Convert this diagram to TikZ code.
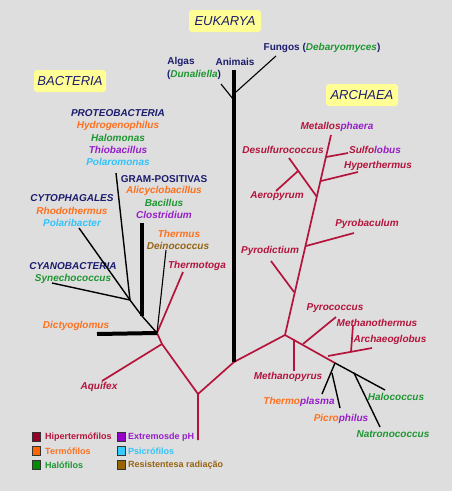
\documentclass[tikz,border=0pt]{standalone}
\usepackage{fontspec}
\setmainfont{Liberation Sans}
\definecolor{bgc}{RGB}{222,222,222}
\definecolor{navy}{RGB}{28,28,110}
\definecolor{crim}{RGB}{180,20,60}
\definecolor{orng}{RGB}{255,112,30}
\definecolor{grn}{RGB}{30,150,50}
\definecolor{purp}{RGB}{150,30,200}
\definecolor{ltblue}{RGB}{50,195,250}
\definecolor{brwn}{RGB}{150,100,20}
\definecolor{yel}{RGB}{255,255,150}
\definecolor{swred}{RGB}{150,0,40}
\definecolor{sworng}{RGB}{255,102,0}
\definecolor{swgrn}{RGB}{0,140,0}
\definecolor{swpurp}{RGB}{150,0,200}
\definecolor{swblue}{RGB}{51,204,255}
\definecolor{swbrwn}{RGB}{150,100,0}
\begin{document}
\begin{tikzpicture}[x=1pt,y=-1pt,
  lbl/.style={font=\fontsize{10}{12}\selectfont\bfseries\itshape, inner sep=0pt},
  ulbl/.style={font=\fontsize{10}{12}\selectfont\bfseries, inner sep=0pt},
  hdr/.style={font=\fontsize{13}{15}\selectfont\itshape, text=navy, fill=yel, rounded corners=3pt, minimum width=72pt, minimum height=22pt, inner sep=0pt},
  leg/.style={font=\fontsize{9}{11}\selectfont\bfseries, inner sep=0pt, anchor=west},
  sw/.style={draw=black!80, line width=0.8pt, minimum width=8.5pt, minimum height=9pt, inner sep=0pt},
  redl/.style={draw=crim, line width=1.7pt},
  blkl/.style={draw=black, line width=1.4pt},
  thk/.style={draw=black, line width=4pt},
]
\useasboundingbox (0,0) rectangle (452,491);
\fill[bgc] (0,0) rectangle (452,491);

% headers
\node[hdr] (euk) at (225,21) {EUKARYA};
\node[hdr] (bac) at (70,81) {BACTERIA};
\node[hdr] (arc) at (362,95) {ARCHAEA};

% eukarya labels
\node[ulbl, text=navy] (algas) at (181,62) {Algas};
\node[ulbl, text=navy] (dun) at (194,75) {(\textcolor{grn}{\itshape Dunaliella})};
\node[ulbl, text=navy] (anim) at (235,62) {Animais};
\node[ulbl, text=navy] (fung) at (322,48) {Fungos (\textcolor{grn}{\itshape Debaryomyces})};

% bacteria labels
\node[lbl, text=navy] (prot) at (118,113) {PROTEOBACTERIA};
\node[lbl, text=orng] (hydr) at (118,126) {Hydrogenophilus};
\node[lbl, text=grn] (halm) at (118,138) {Halomonas};
\node[lbl, text=purp] (thio) at (118,150) {Thiobacillus};
\node[lbl, text=ltblue] (polm) at (118,162) {Polaromonas};
\node[ulbl, text=navy] (gram) at (164,179) {GRAM-POSITIVAS};
\node[lbl, text=orng] (alic) at (164,191) {Alicyclobacillus};
\node[lbl, text=grn] (baci) at (164,203) {Bacillus};
\node[lbl, text=purp] (clos) at (164,215) {Clostridium};
\node[lbl, text=navy] (cyto) at (72,198) {CYTOPHAGALES};
\node[lbl, text=orng] (rhod) at (72,211) {Rhodothermus};
\node[lbl, text=ltblue] (polb) at (72,223) {Polaribacter};
\node[lbl, text=orng] (ther) at (179,234) {Thermus};
\node[lbl, text=brwn] (dein) at (178,246) {Deinococcus};
\node[lbl, text=crim] (tmtg) at (197,266) {Thermotoga};
\node[lbl, text=navy] (cyan) at (73,266) {CYANOBACTERIA};
\node[lbl, text=grn] (syne) at (73,279) {Synechococcus};
\node[lbl, text=orng] (dict) at (76,326) {Dictyoglomus};
\node[lbl, text=crim] (aqui) at (99,387) {Aquifex};

% archaea labels
\node[lbl] (meta) at (337,127) {\textcolor{crim}{Metallos}\textcolor{purp}{phaera}};
\node[lbl, text=crim] (desu) at (283,150) {Desulfurococcus};
\node[lbl] (sulf) at (375,150) {\textcolor{crim}{Sulfo}\textcolor{purp}{lobus}};
\node[lbl, text=crim] (hype) at (378,166) {Hyperthermus};
\node[lbl, text=crim] (aero) at (277,196) {Aeropyrum};
\node[lbl, text=crim] (pyrb) at (367,224) {Pyrobaculum};
\node[lbl, text=crim] (pyrd) at (270,251) {Pyrodictium};
\node[lbl, text=crim] (pyrc) at (335,308) {Pyrococcus};
\node[lbl, text=crim] (mthm) at (377,323) {Methanothermus};
\node[lbl, text=crim] (arcg) at (390,340) {Archaeoglobus};
\node[lbl, text=crim] (mtpy) at (288,377) {Methanopyrus};
\node[lbl] (tpla) at (299,402) {\textcolor{orng}{Thermo}\textcolor{purp}{plasma}};
\node[lbl] (picr) at (341,419) {\textcolor{orng}{Picro}\textcolor{purp}{philus}};
\node[lbl, text=grn] (halc) at (396,397) {Halococcus};
\node[lbl, text=grn] (natr) at (393,434) {Natronococcus};

% tree coordinates
\coordinate (r0) at (198,440);
\coordinate (r1) at (198,394);
\coordinate (bA) at (162,344);
\coordinate (aqT) at (102,381);
\coordinate (b0) at (157,333);
\coordinate (dicT) at (97,334);
\coordinate (tmtT) at (183,272);
\coordinate (deiT) at (166,250);
\coordinate (gp) at (142,316);
\coordinate (gpT) at (142,223);
\coordinate (b1) at (130,300);
\coordinate (proT) at (116,173);
\coordinate (cytT) at (79,228);
\coordinate (cyaT) at (52,283);
\coordinate (e0) at (234,362);
\coordinate (eT) at (234,70);
\coordinate (eA) at (233,99);
\coordinate (algT) at (221,84);
\coordinate (eF) at (236,92);
\coordinate (funT) at (276,56);
\coordinate (a0) at (285,335);
\coordinate (mpJ) at (294,339);
\coordinate (mpT) at (294,371);
\coordinate (pcJ) at (303,344);
\coordinate (pcT) at (336,317);
\coordinate (amJ) at (328,356);
\coordinate (agT) at (372,348);
\coordinate (mtJ) at (351,352);
\coordinate (mtT) at (353,325);
\coordinate (h0) at (335,363);
\coordinate (tpJ) at (332,373);
\coordinate (tpT) at (322,394);
\coordinate (ppT) at (340,408);
\coordinate (hcJ) at (354,373);
\coordinate (hcT) at (385,390);
\coordinate (nnT) at (380,427);
\coordinate (pydJ) at (294,292);
\coordinate (pydT) at (271,261);
\coordinate (pybJ) at (306,246);
\coordinate (pybT) at (354,233);
\coordinate (aeJ) at (317,197);
\coordinate (dsT) at (289,158);
\coordinate (apJ) at (298,171);
\coordinate (apT) at (276,191);
\coordinate (hyJ) at (321,181);
\coordinate (hyT) at (358,172);
\coordinate (slJ) at (326,157);
\coordinate (slT) at (348,153);
\coordinate (mtop) at (331,135);

% bacteria
\draw[redl] (r0) -- (r1) -- (bA) -- (b0);
\draw[redl] (bA) -- (aqT);
\draw[redl] (b0) -- (tmtT);
\draw[thk] (b0) -- (dicT);
\draw[blkl, line width=1.1pt] (b0) -- (deiT);
\draw[blkl] (b0) -- (gp) -- (b1);
\draw[thk] (gp) -- (gpT);
\draw[blkl] (b1) -- (proT);
\draw[blkl] (b1) -- (cytT);
\draw[blkl] (b1) -- (cyaT);

% eukarya
\draw[redl] (r1) -- (e0) -- (a0);
\draw[thk] (e0) -- (eT);
\draw[blkl, line width=1.1pt] (eA) -- (algT);
\draw[blkl, line width=1.1pt] (eF) -- (funT);

% archaea
\draw[redl] (a0) -- (mtop);
\draw[redl] (pydJ) -- (pydT);
\draw[redl] (pybJ) -- (pybT);
\draw[redl] (aeJ) -- (dsT);
\draw[redl] (apJ) -- (apT);
\draw[redl] (hyJ) -- (hyT);
\draw[redl] (slJ) -- (slT);
\draw[redl] (a0) -- (h0);
\draw[redl] (mpJ) -- (mpT);
\draw[redl] (pcJ) -- (pcT);
\draw[redl] (amJ) -- (agT);
\draw[redl] (mtJ) -- (mtT);
\draw[blkl] (h0) -- (tpT);
\draw[blkl] (tpJ) -- (ppT);
\draw[blkl] (h0) -- (hcT);
\draw[blkl] (hcJ) -- (nnT);

% legend
\node[sw, fill=swred] (s1) at (36.5,437) {};
\node[sw, fill=sworng] (s2) at (36.5,451) {};
\node[sw, fill=swgrn] (s3) at (36.5,465) {};
\node[sw, fill=swpurp] (s4) at (121.5,437) {};
\node[sw, fill=swblue] (s5) at (121.5,451) {};
\node[sw, fill=swbrwn] (s6) at (121.5,465) {};
\node[leg, text=crim] (l1) at (45,437) {Hipertermófilos};
\node[leg, text=orng] (l2) at (45,451) {Termófilos};
\node[leg, text=grn] (l3) at (45,465) {Halófilos};
\node[leg, text=purp] (l4) at (128,437) {Extremosde pH};
\node[leg, text=ltblue] (l5) at (128,451) {Psicrófilos};
\node[leg, text=brwn] (l6) at (128,465) {Resistentesa radiação};
\end{tikzpicture}
\end{document}
